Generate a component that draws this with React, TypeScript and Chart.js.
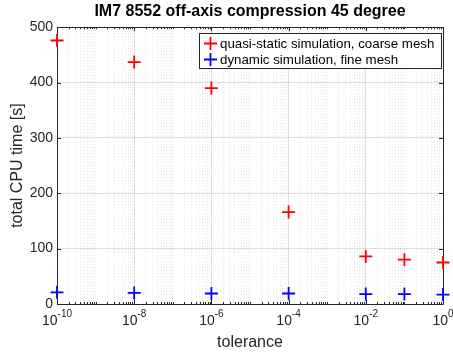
import React, { useEffect, useRef } from "react";
import { Chart, registerables } from "chart.js";

Chart.register(...registerables);

const tolerances = [1e-10, 1e-8, 1e-6, 1e-4, 1e-2, 1e-1, 1e0];
const quasiStaticTime = [476, 437, 390, 166, 86, 80, 75];
const dynamicTime = [21, 20, 19, 19, 18, 18, 17];
const seriesLabels = ["quasi-static simulation, coarse mesh", "dynamic simulation, fine mesh"];
const seriesColors = ["#ff0000", "#0000ff"];
const yTicks = [0, 100, 200, 300, 400, 500];
const majorExponents = [-10, -8, -6, -4, -2, 0];

const FONT = "'Liberation Sans', Arial, Helvetica, sans-serif";
const AXIS = "#262626";

function minorPositions(): number[] {
  const out: number[] = [];
  for (let k = -10; k <= 0; k++) {
    for (let m = 1; m <= 9; m++) {
      if (k === 0 && m > 1) break;
      const v = m * Math.pow(10, k);
      if (m === 1 && majorExponents.includes(k)) continue;
      out.push(v);
    }
  }
  return out;
}

const boxPlugin = {
  id: "boxAndTicks",
  beforeDatasetsDraw(chart: any) {
    const { ctx, chartArea: a, scales } = chart;
    ctx.save();
    ctx.strokeStyle = AXIS;
    ctx.lineWidth = 1;
    const xs = scales.x;
    const ys = scales.y;
    ctx.beginPath();
    for (const v of minorPositions()) {
      const px = Math.round(xs.getPixelForValue(v)) + 0.5;
      ctx.moveTo(px, a.bottom); ctx.lineTo(px, a.bottom - 2);
      ctx.moveTo(px, a.top); ctx.lineTo(px, a.top + 2);
    }
    for (const e of majorExponents) {
      const px = Math.round(xs.getPixelForValue(Math.pow(10, e))) + 0.5;
      ctx.moveTo(px, a.bottom); ctx.lineTo(px, a.bottom - 4);
      ctx.moveTo(px, a.top); ctx.lineTo(px, a.top + 4);
    }
    for (const v of yTicks) {
      const py = Math.round(ys.getPixelForValue(v)) + 0.5;
      ctx.moveTo(a.left, py); ctx.lineTo(a.left + 4, py);
      ctx.moveTo(a.right, py); ctx.lineTo(a.right - 4, py);
    }
    ctx.stroke();
    ctx.beginPath();
    ctx.rect(Math.round(a.left) + 0.5, Math.round(a.top) + 0.5, Math.round(a.right - a.left), Math.round(a.bottom - a.top));
    ctx.stroke();

    // x tick labels: base "10" with superscript exponent
    ctx.fillStyle = AXIS;
    ctx.textBaseline = "alphabetic";
    ctx.textAlign = "left";
    for (const e of majorExponents) {
      const px = xs.getPixelForValue(Math.pow(10, e));
      const base = "10";
      const exp = String(e);
      ctx.font = `14px ${FONT}`;
      const wb = ctx.measureText(base).width;
      ctx.font = `10px ${FONT}`;
      const we = ctx.measureText(exp).width;
      const start = px - (wb + we) / 2;
      ctx.font = `14px ${FONT}`;
      ctx.fillText(base, start, a.bottom + 21);
      ctx.font = `10px ${FONT}`;
      ctx.fillText(exp, start + wb, a.bottom + 13);
    }
    ctx.restore();
  },
  afterDatasetsDraw(chart: any) {
    const { ctx } = chart;
    ctx.save();
    const x0 = 199.5, y0 = 33.5, w = 242, h = 35;
    ctx.fillStyle = "#ffffff";
    ctx.fillRect(x0, y0, w, h);
    ctx.strokeStyle = AXIS;
    ctx.lineWidth = 1;
    ctx.strokeRect(x0, y0, w, h);
    ctx.font = `13.3px ${FONT}`;
    ctx.textBaseline = "middle";
    ctx.textAlign = "left";
    seriesLabels.forEach((lab, i) => {
      const cy = 43.5 + i * 16;
      const cx = 210.5;
      ctx.strokeStyle = seriesColors[i];
      ctx.lineWidth = 1.8;
      ctx.beginPath();
      ctx.moveTo(cx - 6.5, cy); ctx.lineTo(cx + 6.5, cy);
      ctx.moveTo(cx, cy - 6.5); ctx.lineTo(cx, cy + 6.5);
      ctx.stroke();
      ctx.fillStyle = "#000000";
      ctx.fillText(lab, 220, cy + 0.5);
    });
    ctx.restore();
  },
};

export default function App() {
  const ref = useRef<HTMLCanvasElement>(null);
  useEffect(() => {
    if (!ref.current) return;
    const chart = new Chart(ref.current, {
      type: "scatter",
      data: {
        datasets: [
          {
            label: seriesLabels[0],
            data: tolerances.map((t, i) => ({ x: t, y: quasiStaticTime[i] })),
            pointStyle: "cross",
            pointRadius: 6.5,
            borderColor: seriesColors[0],
            backgroundColor: seriesColors[0],
            pointBorderWidth: 1.8,
            clip: false as any,
          },
          {
            label: seriesLabels[1],
            data: tolerances.map((t, i) => ({ x: t, y: dynamicTime[i] })),
            pointStyle: "cross",
            pointRadius: 6.5,
            borderColor: seriesColors[1],
            backgroundColor: seriesColors[1],
            pointBorderWidth: 1.8,
            clip: false as any,
          },
        ],
      },
      options: {
        animation: false,
        responsive: false,
        devicePixelRatio: 1,
        layout: { padding: { left: 0, right: 10, top: 0, bottom: 0 } },
        plugins: {
          legend: { display: false },
          tooltip: { enabled: false },
          title: {
            display: true,
            fullSize: false,
            text: "IM7 8552 off-axis compression 45 degree",
            color: "#000000",
            font: { family: FONT, size: 16, weight: "bold" },
            padding: { top: 2, bottom: 6 },
          },
        },
        scales: {
          x: {
            type: "logarithmic",
            min: 1e-10,
            max: 1,
            afterBuildTicks: (s: any) => {
              s.ticks = majorExponents.map((e) => ({ value: Math.pow(10, e), major: true }));
            },
            afterFit: (s: any) => { s.height = 50; },
            ticks: { display: false, autoSkip: false },
            grid: { color: "rgba(0,0,0,0.13)", drawTicks: false, tickLength: 0, lineWidth: 1 },
            border: { display: false },
            title: { display: true, text: "tolerance", color: AXIS, font: { family: FONT, size: 16 }, padding: { top: 2, bottom: 2 } },
          },
          xMinor: {
            type: "logarithmic",
            position: "bottom",
            min: 1e-10,
            max: 1,
            afterBuildTicks: (s: any) => {
              s.ticks = minorPositions().map((v) => ({ value: v }));
            },
            afterFit: (s: any) => { s.height = 0; },
            ticks: { display: false },
            grid: { color: "rgba(0,0,0,0.11)", drawTicks: false, tickLength: 0, lineWidth: 1 },
            border: { display: false, dash: [1, 2] },
          },
          y: {
            type: "linear",
            min: 0,
            max: 500,
            afterBuildTicks: (s: any) => {
              s.ticks = yTicks.map((v) => ({ value: v }));
            },
            afterFit: (s: any) => { s.width = 57; },
            ticks: { color: AXIS, font: { family: FONT, size: 14 }, padding: 4 },
            grid: { color: "rgba(0,0,0,0.13)", drawTicks: false, tickLength: 0, lineWidth: 1 },
            border: { display: false },
            title: { display: true, text: "total CPU time [s]", color: AXIS, font: { family: FONT, size: 16 }, padding: { top: 8, bottom: 0 } },
          },
        },
      } as any,
      plugins: [boxPlugin],
    });
    return () => chart.destroy();
  }, []);
  return (
    <div style={{ position: "absolute", left: 0, top: 0, width: 453, height: 354, background: "#fff" }}>
      <canvas ref={ref} width={453} height={354} style={{ width: 453, height: 354, display: "block" }} />
    </div>
  );
}
